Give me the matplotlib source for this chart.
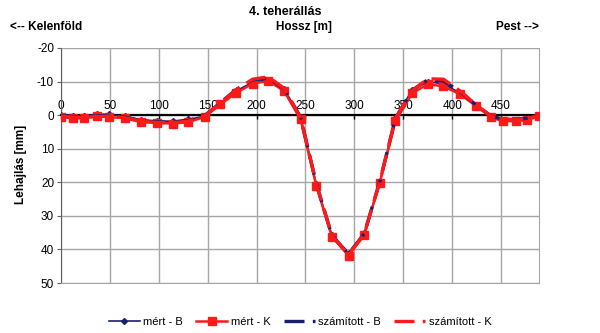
import numpy as np
import matplotlib
matplotlib.use("Agg")
import matplotlib.pyplot as plt

plt.rcParams['font.family'] = ['Liberation Sans', 'DejaVu Sans']
plt.rcParams['axes.unicode_minus'] = False

# measuring stations along the bridge [m]
hossz = [0, 12, 24, 37, 49, 65, 82, 98, 114, 130, 147, 163, 179, 196, 212, 228,
         245, 261, 277, 294, 310, 326, 342, 359, 375, 391, 408, 424, 440, 452,
         465, 477, 489]

mert_B = [0.0, 0.2, 0.3, -0.3, -0.2, 0.3, 1.5, 1.8, 1.8, 1.3, 0.3, -3.5, -7.2,
          -9.8, -10.5, -7.8, 0.5, 20.5, 35.8, 41.2, 35.2, 19.8, 1.0, -7.5,
          -10.0, -9.3, -6.6, -3.0, 0.4, 1.4, 1.6, 1.2, 0.1]
mert_K = [0.5, 1.0, 0.9, 0.3, 0.6, 0.9, 2.1, 2.3, 2.5, 2.1, 0.5, -3.2, -6.6,
          -9.4, -10.2, -7.2, 1.3, 21.0, 36.2, 41.8, 35.7, 20.1, 1.8, -6.5,
          -9.2, -8.6, -6.2, -2.8, 0.7, 1.8, 1.8, 1.5, 0.2]
szam_B = [0.2, 0.4, 0.5, 0.2, 0.1, 0.6, 1.6, 2.0, 2.1, 1.6, 0.1, -3.7, -7.6,
          -10.5, -11.0, -7.9, 0.6, 20.3, 35.8, 41.3, 35.3, 19.7, 0.9, -7.4,
          -10.5, -10.2, -7.0, -3.1, 0.3, 1.2, 1.3, 0.9, 0.1]
szam_K = [0.3, 0.6, 0.7, 0.4, 0.3, 0.8, 1.8, 2.2, 2.3, 1.8, 0.2, -3.6, -7.5,
          -10.7, -11.4, -8.0, 0.8, 20.5, 36.0, 41.5, 35.5, 19.8, 1.0, -7.3,
          -10.8, -10.7, -7.2, -3.2, 0.4, 1.3, 1.4, 1.0, 0.1]

navy = '#1a2070'
red = '#ff1a1a'

fig = plt.figure(figsize=(6, 3.33), dpi=100)
ax = fig.add_axes([0.1017, 0.150, 0.797, 0.706])

ax.plot(hossz, mert_B, color=navy, lw=1.2, marker='D', ms=3, label='mért - B', zorder=3)
ax.plot(hossz, mert_K, color=red, lw=1.8, marker='s', ms=5.5, label='mért - K', zorder=4)
ax.plot(hossz, szam_B, color=navy, lw=2.4, ls=(0, (6, 2.5)), label='számított - B', zorder=5)
ax.plot(hossz, szam_K, color=red, lw=2.4, ls=(0, (6, 2.5)), label='számított - K', zorder=6)

ax.set_xlim(0, 489)
ax.set_ylim(50, -20)
ax.set_xticks(np.arange(0, 451, 50))
ax.set_yticks(np.arange(-20, 51, 10))
ax.grid(True, color='#a6a6a6', lw=1)
ax.set_axisbelow(True)

# zero line carries the x axis with labels above it
ax.spines['top'].set_position(('data', 0))
ax.spines['top'].set_color('black')
ax.spines['top'].set_linewidth(1.6)
ax.spines['top'].set_zorder(2)
ax.xaxis.set_ticks_position('top')
ax.tick_params(axis='x', direction='in', length=3, width=1, pad=2, labelsize=8.5)
ax.tick_params(axis='y', direction='out', length=3, color='#606060', labelsize=8.5, pad=2)
ax.spines['left'].set_color('#606060')
ax.spines['bottom'].set_color('#a6a6a6')
ax.spines['right'].set_color('#a6a6a6')

fig.text(0.475, 0.965, '4. teherállás', ha='center', va='center', fontsize=9, fontweight='bold')
fig.text(0.507, 0.918, 'Hossz [m]', ha='center', va='center', fontsize=8.5, fontweight='bold')
fig.text(0.017, 0.918, '<-- Kelenföld', ha='left', va='center', fontsize=8.5, fontweight='bold')
fig.text(0.862, 0.918, 'Pest -->', ha='center', va='center', fontsize=8.5, fontweight='bold')
fig.text(0.035, 0.505, 'Lehajlás [mm]', rotation=90, ha='center', va='center',
         fontsize=8.5, fontweight='bold')

fig.legend(loc='center', bbox_to_anchor=(0.5, 0.033), ncol=4, frameon=False,
           fontsize=8, handlelength=2.8, columnspacing=1.2, handletextpad=0.3)

fig.savefig('out.png', dpi=100)
